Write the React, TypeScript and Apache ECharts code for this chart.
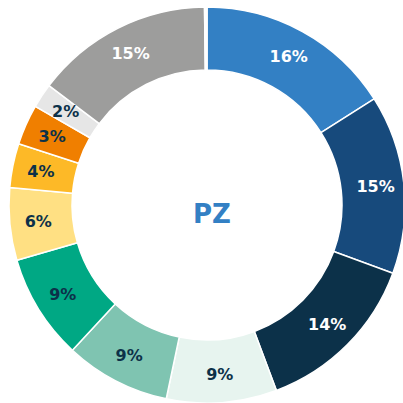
import React, { useEffect, useRef } from "react";
import * as echarts from "echarts";

const categories = ["A", "B", "C", "D", "E", "F", "G", "H", "I", "J", "K", "L"];
const values = [16.0, 14.6, 13.7, 9.0, 8.6, 8.6, 5.9, 3.6, 3.3, 2.0, 14.5, 0.2];
const colors = [
  "#3380c4", "#174a7c", "#0c3149", "#e7f4ef", "#7fc4b1", "#00a884",
  "#ffe083", "#fdb927", "#f07f00", "#e6e6e6", "#9d9d9c", "#ffffff",
];
const labelColors = [
  "#ffffff", "#ffffff", "#ffffff", "#0c3149", "#0c3149", "#0c3149",
  "#0c3149", "#0c3149", "#0c3149", "#0c3149", "#ffffff", "#ffffff",
];
const centerTitle = "PZ";

export default function App() {
  const ref = useRef<HTMLDivElement>(null);
  useEffect(() => {
    if (!ref.current) return;
    const chart = echarts.init(ref.current, null, { renderer: "svg" });
    chart.setOption({
      animation: false,
      title: {
        text: centerTitle,
        left: 207,
        top: 196,
        textAlign: "center",
        textStyle: {
          color: "#3380c4",
          fontSize: 26,
          fontWeight: "bold",
          fontFamily: "DejaVu Sans",
        },
      },
      series: [
        {
          type: "pie",
          center: [207, 205],
          radius: [135, 198],
          startAngle: 90,
          clockwise: true,
          avoidLabelOverlap: false,
          itemStyle: { borderColor: "#ffffff", borderWidth: 1.5 },
          label: {
            show: true,
            position: "inside",
            fontFamily: "DejaVu Sans",
            fontWeight: "bold",
            fontSize: 16,
          },
          labelLine: { show: false },
          data: categories.map((c, i) => ({
            name: c,
            value: values[i],
            itemStyle: { color: colors[i] },
            label: {
              show: i < 11,
              color: labelColors[i],
              formatter: () => Math.round(values[i]) + "%",
            },
          })),
        },
      ],
    });
    return () => chart.dispose();
  }, []);
  return (
    <div
      ref={ref}
      style={{ position: "fixed", left: 0, top: 0, width: 403, height: 403, background: "#fff" }}
    />
  );
}
